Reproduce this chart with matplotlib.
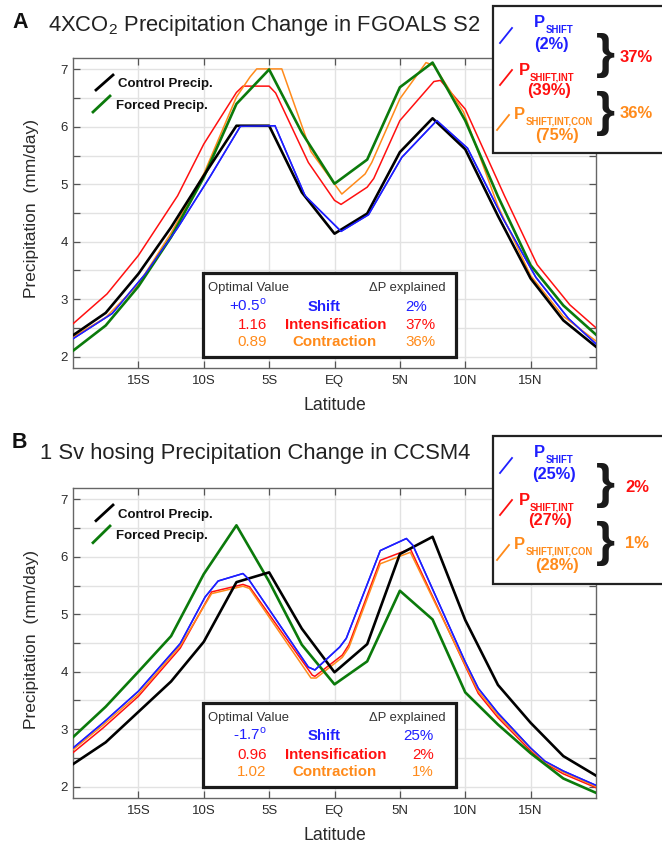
import matplotlib
matplotlib.use("Agg")
import matplotlib.pyplot as plt
from matplotlib.patches import Rectangle
from matplotlib.lines import Line2D

plt.rcParams['font.family'] = ['Liberation Sans', 'DejaVu Sans']
plt.rcParams['mathtext.fontset'] = 'custom'
plt.rcParams['mathtext.rm'] = 'Liberation Sans'

W, H = 662, 846

# ---------------- data ----------------
lat_grid = [-20, -17.5, -15, -12.5, -10, -7.5, -5, -2.5, 0, 2.5, 5, 7.5, 10, 12.5, 15, 17.5, 20]
xtick_vals = [-15, -10, -5, 0, 5, 10, 15]
xtick_labels = ['15S', '10S', '5S', 'EQ', '5N', '10N', '15N']
ytick_vals = [2, 3, 4, 5, 6, 7]

# Panel A : 4XCO2 FGOALS S2
ctrl_a = [2.37, 2.76, 3.44, 4.25, 5.15, 6.02, 6.02, 4.86, 4.14, 4.49, 5.56, 6.15, 5.61, 4.45, 3.36, 2.63, 2.17]
forced_a = [2.10, 2.54, 3.22, 4.08, 5.12, 6.40, 7.00, 5.90, 5.01, 5.43, 6.69, 7.12, 6.11, 4.79, 3.59, 2.89, 2.38]
shift_a_lat = [-20, -17, -14.5, -12, -9.5, -7.2, -4.55, -2.25, 0.5, 2.6, 5.15, 7.82, 10.17, 12.9, 15.4, 17.9, 20]
shift_a = [2.31, 2.75, 3.43, 4.24, 5.14, 6.01, 6.02, 4.80, 4.18, 4.47, 5.47, 6.11, 5.63, 4.40, 3.38, 2.66, 2.22]
int_a_lat = [-20, -17.4, -15, -12, -10, -7.5, -7, -5, -4.5, -2, 0, 0.5, 2.5, 3, 5, 7.6, 8.1, 10, 13, 15.5, 18, 20]
int_a = [2.57, 3.09, 3.76, 4.80, 5.70, 6.60, 6.71, 6.71, 6.59, 5.38, 4.72, 4.65, 4.95, 5.10, 6.11, 6.79, 6.81, 6.31, 4.80, 3.60, 2.90, 2.50]
con_a_lat = [-20, -17.5, -15, -12.5, -10, -7.5, -6.46, -5.95, -4.03, -1.8, 0.56, 2.34, 2.85, 5.0, 7.0, 7.6, 9.87, 12.5, 15, 17.5, 20]
con_a = [2.34, 2.68, 3.26, 4.15, 5.18, 6.52, 6.87, 7.01, 7.01, 5.57, 4.83, 5.18, 5.38, 6.49, 7.12, 7.07, 6.26, 4.62, 3.41, 2.70, 2.27]

# Panel B : 1 Sv hosing CCSM4
ctrl_b = [2.39, 2.77, 3.30, 3.83, 4.52, 5.56, 5.73, 4.75, 3.99, 4.48, 6.05, 6.35, 4.90, 3.77, 3.11, 2.53, 2.19]
forced_b = [2.86, 3.39, 4.00, 4.62, 5.70, 6.55, 5.57, 4.47, 3.78, 4.18, 5.41, 4.91, 3.64, 3.08, 2.58, 2.14, 1.89]
shift_b_lat = [-20, -17.7, -15, -11.8, -9.9, -8.9, -7.0, -6.6, -2.0, -1.5, 0.4, 0.9, 3.5, 5.5, 6.0, 10, 11, 12.5, 15, 16.1, 17.5, 20]
shift_b = [2.67, 3.11, 3.66, 4.49, 5.30, 5.58, 5.71, 5.62, 4.08, 4.03, 4.43, 4.58, 6.11, 6.32, 6.20, 4.17, 3.71, 3.28, 2.67, 2.44, 2.27, 2.02]
int_b_lat = [-20, -17.7, -15, -11.8, -9.4, -7.0, -6.5, -1.7, -1.5, 0.6, 1.1, 3.5, 5.8, 10, 11, 12.5, 15, 16.1, 17.5, 20]
int_b = [2.59, 3.02, 3.57, 4.41, 5.39, 5.52, 5.48, 3.94, 3.92, 4.29, 4.47, 5.94, 6.14, 4.10, 3.62, 3.20, 2.62, 2.40, 2.22, 1.98]
con_b_lat = [-20, -17.7, -15, -11.8, -9.4, -7.0, -6.5, -1.8, -1.4, 0.6, 1.1, 3.5, 5.8, 10, 11, 12.5, 15, 16.1, 17.5, 20]
con_b = [2.64, 3.07, 3.61, 4.45, 5.36, 5.49, 5.45, 3.89, 3.89, 4.25, 4.42, 5.88, 6.08, 4.12, 3.66, 3.24, 2.66, 2.43, 2.25, 2.00]

titles = [r"4XCO$_\mathregular{2}$ Precipitation Change in FGOALS S2",
          "1 Sv hosing Precipitation Change in CCSM4"]
panel_letters = ['A', 'B']
table_values = [[r"+0.5$^\mathregular{o}$", "1.16", "0.89"],
                [r"-1.7$^\mathregular{o}$", "0.96", "1.02"]]
table_names = ["Shift", "Intensification", "Contraction"]
table_pcts = [["2%", "37%", "36%"], ["25%", "2%", "1%"]]
legend_pcts = [["(2%)", "(39%)", "(75%)"], ["(25%)", "(27%)", "(28%)"]]
brace_pcts = [["37%", "36%"], ["2%", "1%"]]

# ---------------- style ----------------
C_BLACK = '#000000'
C_GREEN = '#0b7a0b'
C_BLUE = '#1f1fff'
C_RED = '#ff1010'
C_ORANGE = '#ff8a1a'
C_TXT = '#2a2a2a'

fig = plt.figure(figsize=(W / 100, H / 100), dpi=100)


def fx(px):
    return px / W


def fy(py):
    return 1 - py / H


def ftext(x, y, s, **kw):
    return fig.text(fx(x), fy(y), s, **kw)


def fline(x0, y0, x1, y1, **kw):
    fig.add_artist(Line2D([fx(x0), fx(x1)], [fy(y0), fy(y1)], transform=fig.transFigure, **kw))


panels = [
    dict(top=58, bot=368, ctrl=ctrl_a, forced=forced_a,
         series=[(shift_a_lat, shift_a, C_BLUE), (int_a_lat, int_a, C_RED), (con_a_lat, con_a, C_ORANGE)]),
    dict(top=488, bot=798, ctrl=ctrl_b, forced=forced_b,
         series=[(shift_b_lat, shift_b, C_BLUE), (int_b_lat, int_b, C_RED), (con_b_lat, con_b, C_ORANGE)]),
]

for i, p in enumerate(panels):
    L, R = 73, 596
    ax = fig.add_axes([fx(L), fy(p['bot']), (R - L) / W, (p['bot'] - p['top']) / H])
    ax.set_xlim(-20, 20)
    ax.set_ylim(1.8, 7.2)
    ax.set_xticks(xtick_vals)
    ax.set_xticklabels(xtick_labels)
    ax.set_yticks(ytick_vals)
    ax.set_yticks([2.5, 3.5, 4.5, 5.5, 6.5], minor=True)
    ax.grid(True, which='both', color='#e2e2e2', lw=1.0, zorder=0)
    ax.tick_params(which='both', direction='in', top=True, right=True, length=5,
                   width=0.9, color='#555555', labelsize=9.5, labelcolor=C_TXT)
    ax.tick_params(axis='x', pad=5)
    ax.tick_params(axis='y', pad=3.5)
    for sp in ax.spines.values():
        sp.set_color('#666666')
        sp.set_linewidth(1.0)

    for lat, vals, col in p['series']:
        ax.plot(lat, vals, color=col, lw=1.1, zorder=3)
    ax.plot(lat_grid, p['ctrl'], color=C_BLACK, lw=1.9, zorder=4)
    ax.plot(lat_grid, p['forced'], color=C_GREEN, lw=1.9, zorder=3.5)
    for lat, vals, col in p['series'][:1]:
        ax.plot(lat, vals, color=col, lw=1.1, zorder=5)

    # axis labels
    ftext(334.5, p['bot'] + 42, "Latitude", ha='center', va='baseline', fontsize=12.7, color=C_TXT)
    fig.text(fx(36), fy((p['top'] + p['bot']) / 2 - 4), "Precipitation  (mm/day)", rotation=90,
             rotation_mode='anchor', ha='center', va='baseline', fontsize=12.5, color=C_TXT)

    # titles
    ttl_base = [30.7, 459.3][i]
    let_base = [28.3, 448.3][i]
    ttl_x = [48, 40][i]
    ftext(12, let_base, panel_letters[i], fontsize=15.5, fontweight='bold', color='#111111', va='baseline')
    ftext(ttl_x, ttl_base, titles[i], fontsize=15.8, color='#222222', va='baseline')

    # in-axes legend (diagonal handles)
    hb = [(96, 90, 113, 75), (96, 520.7, 113, 505)][i]
    hg = [(93, 112, 110, 96), (93, 542.7, 110, 526)][i]
    fline(*hb, color=C_BLACK, lw=2.0)
    fline(*hg, color=C_GREEN, lw=2.0)
    ftext(118, [87.3, 518.3][i], "Control Precip.", fontsize=9.5, fontweight='bold', color='#111111', va='baseline')
    ftext(116, [109.3, 539.3][i], "Forced Precip.", fontsize=9.5, fontweight='bold', color='#111111', va='baseline')

    # table box
    tb_top = [273, 702.7][i]
    tb_bot = [357, 786.7][i]
    fig.add_artist(Rectangle((fx(203.3), fy(tb_bot)), (456 - 203.3) / W, (tb_bot - tb_top) / H,
                             transform=fig.transFigure, facecolor='white', edgecolor='#1a1a1a',
                             lw=2.3, zorder=5))
    hdr = [290.7, 720.7][i]
    rows = [[310.7, 329, 345.7], [740, 759, 775.7]][i]
    ftext(208.3, hdr, "Optimal Value", fontsize=9.4, color='#333333', va='baseline', zorder=6)
    ftext(446, hdr, "\u0394P explained", fontsize=9.4, color='#333333', va='baseline', ha='right', zorder=6)
    cols = [C_BLUE, C_RED, C_ORANGE]
    name_cx = [323.7, 335.3, 334.3]
    for k in range(3):
        ftext(266.7, rows[k], table_values[i][k], fontsize=10.9, color=cols[k], ha='right', va='baseline', zorder=6)
        ftext(name_cx[k], rows[k], table_names[k], fontsize=10.8, fontweight='bold', color=cols[k],
              ha='center', va='baseline', zorder=6)
        if i == 0:
            ftext(405, rows[k], table_pcts[i][k], fontsize=10.9, color=cols[k], ha='left', va='baseline', zorder=6)
        else:
            ftext(434, rows[k], table_pcts[i][k], fontsize=10.9, color=cols[k], ha='right', va='baseline', zorder=6)

    # right legend box
    bx_top = [6, 436][i]
    bx_bot = [153, 584][i]
    fig.add_artist(Rectangle((fx(493), fy(bx_bot)), (700 - 493) / W, (bx_bot - bx_top) / H,
                             transform=fig.transFigure, facecolor='white', edgecolor='#222222',
                             lw=1.6, zorder=5))
    d = [0, 430][i]
    fline(500, 43 + d, 512, 28 + d, color=C_BLUE, lw=1.3, zorder=6)
    fline(500, 85 + d, 512, 70 + d, color=C_RED, lw=1.3, zorder=6)
    fline(497, 130 + d, 509, 115 + d, color=C_ORANGE, lw=1.3, zorder=6)
    ftext(534.3, 26.7 + d, "P", fontsize=11.9, fontweight='bold', color=C_BLUE, va='baseline', zorder=6)
    ftext(545.7, 32.7 + d, "SHIFT", fontsize=6.9, fontweight='bold', color=C_BLUE, va='baseline', zorder=6)
    ftext(519, 75 + d, "P", fontsize=11.9, fontweight='bold', color=C_RED, va='baseline', zorder=6)
    ftext(530, 80 + d, "SHIFT,INT", fontsize=6.9, fontweight='bold', color=C_RED, va='baseline', zorder=6)
    ftext(514.3, 119.3 + d, "P", fontsize=11.9, fontweight='bold', color=C_ORANGE, va='baseline', zorder=6)
    ftext(525.7, 124.3 + d, "SHIFT,INT,CON", fontsize=6.9, fontweight='bold', color=C_ORANGE, va='baseline', zorder=6)
    lp_x = [[551.7, 549.3, 557.3], [554, 550, 557.3]][i]
    lp_y = [49.3, 95, 140]
    for k in range(3):
        ftext(lp_x[k], lp_y[k] + d, legend_pcts[i][k], fontsize=11.8, fontweight='bold', color=cols[k],
              ha='center', va='baseline', zorder=6)
    # braces
    br_y = [55.7, 113]
    for k in range(2):
        ftext(605, br_y[k] + d, "}", fontsize=35, fontweight='bold', color='#1a1a1a',
              ha='center', va='center', zorder=6)
    bp_x = [620, 625][i]
    bp_y = [62.3, 118.3]
    bcols = [C_RED, C_ORANGE]
    for k in range(2):
        ftext(bp_x, bp_y[k] + d, brace_pcts[i][k], fontsize=12, fontweight='bold', color=bcols[k],
              ha='left', va='baseline', zorder=6)

fig.savefig("out.png", dpi=100, facecolor='white')
